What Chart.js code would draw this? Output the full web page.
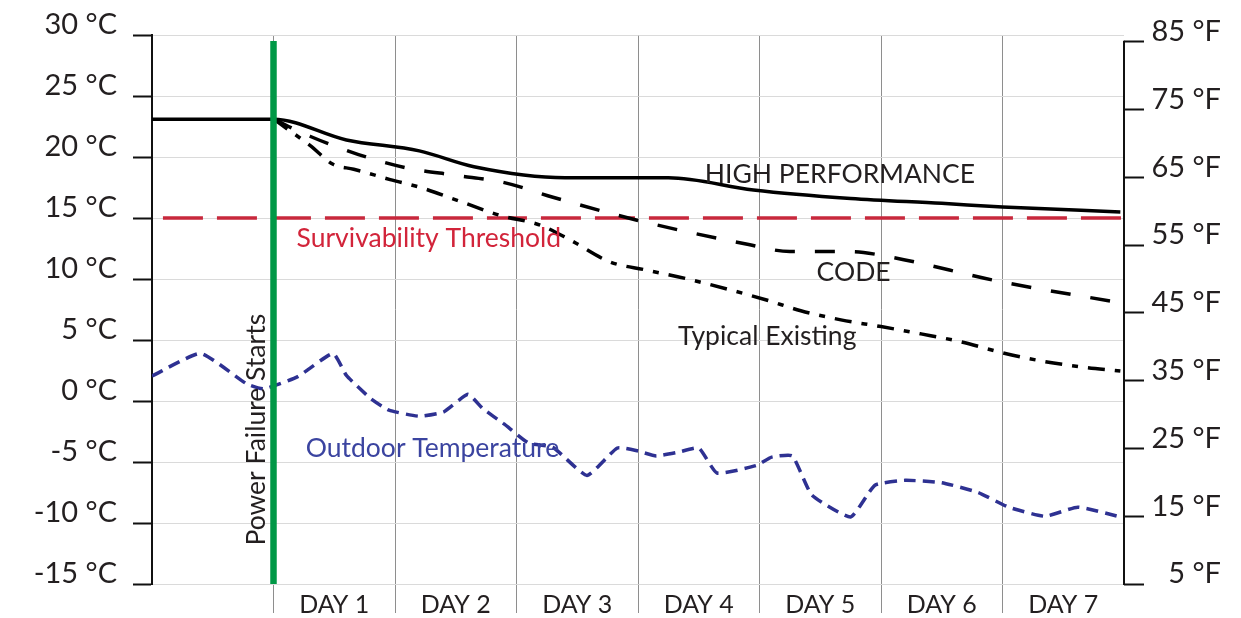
<!DOCTYPE html>
<html>
<head>
<meta charset="utf-8">
<script src="https://cdn.jsdelivr.net/npm/chart.js@4"></script>
<style>
    html, body { margin: 0; padding: 0; background: #fff; }
</style>
</head>
<body>
<canvas id="tempChart" width="1241" height="618"></canvas>
<script>
// DATA (x in days since the power failure, y in °C)
const dayLabels = ["DAY 1", "DAY 2", "DAY 3", "DAY 4", "DAY 5", "DAY 6", "DAY 7"];
const celsiusTicks = [-15, -10, -5, 0, 5, 10, 15, 20, 25, 30];
const fahrenheitTicks = [5, 15, 25, 35, 45, 55, 65, 75, 85];

const highPerfDays  = [-1, 0, 0.6, 1.2, 1.65, 2.4, 3.25, 3.95, 4.75, 5.5, 6.0, 6.97];
const highPerfTemps = [23.1, 23.1, 21.4, 20.5, 19.2, 18.3, 18.3, 17.3, 16.6, 16.2, 15.9, 15.5];

const codeDays  = [0, 0.3, 0.7, 1.1, 1.5, 1.9, 2.3, 3.0, 3.9, 4.25, 4.75, 5.0, 6.0, 6.97];
const codeTemps = [23.1, 21.7, 20.2, 19.1, 18.5, 17.9, 16.7, 14.8, 12.85, 12.25, 12.25, 11.95, 9.75, 8.05];

const typicalDays  = [0, 0.3, 0.49, 0.66, 0.96, 1.21, 1.54, 1.87, 2.2, 2.45, 2.77, 3.06, 3.43, 4.05, 4.34, 4.67, 5.0, 5.33, 5.66, 5.98, 6.31, 6.64, 6.97];
const typicalTemps = [23.1, 20.95, 19.4, 19.0, 18.15, 17.5, 16.35, 15.2, 14.4, 13.15, 11.4, 10.75, 9.95, 8.3, 7.4, 6.65, 6.1, 5.5, 4.85, 4.0, 3.3, 2.8, 2.45];

const outdoorDays  = [-1, -0.6, -0.22, -0.08, 0.2, 0.49, 0.6, 0.8, 0.95, 1.2, 1.4, 1.6, 1.72, 1.9, 2.1, 2.3, 2.58, 2.83, 3.0, 3.15, 3.33, 3.5, 3.65, 3.97, 4.1, 4.27, 4.43, 4.75, 4.95, 5.2, 5.5, 5.8, 6.05, 6.35, 6.62, 6.97];
const outdoorTemps = [2.05, 3.9, 1.4, 1.0, 2.0, 3.9, 2.1, 0.2, -0.75, -1.25, -0.9, 0.55, -0.6, -1.9, -3.45, -3.8, -6.1, -3.85, -4.1, -4.5, -4.2, -3.85, -5.9, -5.3, -4.6, -4.5, -7.7, -9.5, -6.9, -6.5, -6.7, -7.5, -8.7, -9.45, -8.7, -9.5];

const thresholdDays  = [-0.91, 7];
const thresholdTemps = [15, 15];

const powerFailDays  = [0, 0];
const powerFailTemps = [-15, 29.5];

const FONT = 'Lato, "Open Sans", sans-serif';
const TEXT = '#231f20';

const pts = (xs, ys) => xs.map((x, i) => ({ x, y: ys[i] }));

// text notes placed in data units
const notes = [
    { text: "HIGH PERFORMANCE", x: 3.55, y: 17.9, color: TEXT },
    { text: "CODE", x: 4.47, y: 9.8, color: TEXT },
    { text: "Typical Existing", x: 3.33, y: 4.6, color: TEXT },
    { text: "Survivability Threshold", x: 0.19, y: 12.6, color: '#d2243a' },
    { text: "Outdoor Temperature", x: 0.265, y: -4.55, color: '#3b44a0' },
    { text: "Power Failure Starts", x: -0.066, y: -11.85, color: TEXT, rotate: true }
];

const notesPlugin = {
    id: 'notes',
    afterDatasetsDraw(chart) {
        const { ctx, chartArea, scales } = chart;
        const { x, y, y2 } = scales;
        ctx.save();

        // right axis line only spans 5..85 °F
        ctx.strokeStyle = '#111';
        ctx.lineWidth = 2;
        ctx.beginPath();
        ctx.moveTo(chartArea.right, y2.getPixelForValue(fahrenheitTicks[fahrenheitTicks.length - 1]) - 1);
        ctx.lineTo(chartArea.right, y2.getPixelForValue(fahrenheitTicks[0]) + 1);
        ctx.stroke();

        ctx.font = '26.5px ' + FONT;
        ctx.textAlign = 'left';
        ctx.textBaseline = 'alphabetic';
        notes.forEach(n => {
            const px = x.getPixelForValue(n.x);
            const py = y.getPixelForValue(n.y);
            ctx.fillStyle = n.color;
            if (n.rotate) {
                ctx.save();
                ctx.translate(px, py);
                ctx.rotate(-Math.PI / 2);
                ctx.fillText(n.text, 0, 0);
                ctx.restore();
            } else {
                ctx.fillText(n.text, px, py);
            }
        });
        ctx.restore();
    }
};

const ctx = document.getElementById("tempChart");

new Chart(ctx, {
    type: 'line',
    data: {
        datasets: [
            {
                label: 'Power Failure Starts',
                data: pts(powerFailDays, powerFailTemps),
                borderColor: '#009846',
                borderWidth: 6.5
            },
            {
                label: 'HIGH PERFORMANCE',
                data: pts(highPerfDays, highPerfTemps),
                borderColor: '#000',
                borderWidth: 3.5,
                cubicInterpolationMode: 'monotone'
            },
            {
                label: 'CODE',
                data: pts(codeDays, codeTemps),
                borderColor: '#000',
                borderWidth: 3.5,
                borderDash: [20, 20],
                cubicInterpolationMode: 'monotone'
            },
            {
                label: 'Typical Existing',
                data: pts(typicalDays, typicalTemps),
                borderColor: '#000',
                borderWidth: 3.5,
                borderDash: [17, 10, 6, 10],
                cubicInterpolationMode: 'monotone'
            },
            {
                label: 'Survivability Threshold',
                data: pts(thresholdDays, thresholdTemps),
                borderColor: '#c8283c',
                borderWidth: 3.5,
                borderDash: [40, 14]
            },
            {
                label: 'Outdoor Temperature',
                data: pts(outdoorDays, outdoorTemps),
                borderColor: '#2e3192',
                borderWidth: 3.5,
                borderDash: [12, 7],
                tension: 0.15
            }
        ]
    },
    options: {
        responsive: false,
        animation: false,
        layout: { padding: { top: 35, right: 20, left: 0, bottom: 0 } },
        elements: { point: { radius: 0, hoverRadius: 0 } },
        plugins: {
            legend: { display: false },
            tooltip: { enabled: false }
        },
        scales: {
            x: {
                type: 'linear',
                min: -1,
                max: 7,
                afterBuildTicks: s => { s.ticks = dayLabels.map((_, i) => ({ value: i + 0.5 })); },
                afterFit: s => { s.height = 34; },
                ticks: {
                    callback: (v, i) => dayLabels[i],
                    autoSkip: false,
                    maxRotation: 0,
                    padding: -23,
                    color: TEXT,
                    font: { family: FONT, size: 25 }
                },
                grid: {
                    offset: true,
                    color: c => c.tick ? '#8e8e8e' : 'rgba(0,0,0,0)',
                    tickColor: c => c.tick ? '#8e8e8e' : 'rgba(0,0,0,0)',
                    lineWidth: 1,
                    tickLength: 29
                },
                border: { display: false }
            },
            y: {
                position: 'left',
                min: -15,
                max: 30,
                afterBuildTicks: s => { s.ticks = celsiusTicks.map(v => ({ value: v })); },
                afterFit: s => { s.width = 152; },
                ticks: {
                    callback: v => v + ' °C',
                    padding: 16,
                    labelOffset: -10,
                    color: TEXT,
                    font: { family: FONT, size: 29 }
                },
                grid: {
                    color: '#dadada',
                    lineWidth: 1,
                    tickColor: '#111',
                    tickWidth: 2,
                    tickLength: 19
                },
                border: { color: '#111', width: 2 }
            },
            y2: {
                position: 'right',
                min: 5,
                max: 86,
                afterBuildTicks: s => { s.ticks = fahrenheitTicks.map(v => ({ value: v })); },
                afterFit: s => { s.width = 97; },
                ticks: {
                    callback: v => v + ' °F',
                    crossAlign: 'far',
                    padding: 8,
                    labelOffset: -10,
                    color: TEXT,
                    font: { family: FONT, size: 29 }
                },
                grid: {
                    drawOnChartArea: false,
                    tickColor: '#111',
                    tickWidth: 2,
                    tickLength: 20
                },
                border: { display: false }
            }
        }
    },
    plugins: [notesPlugin]
});
</script>
</body>
</html>
